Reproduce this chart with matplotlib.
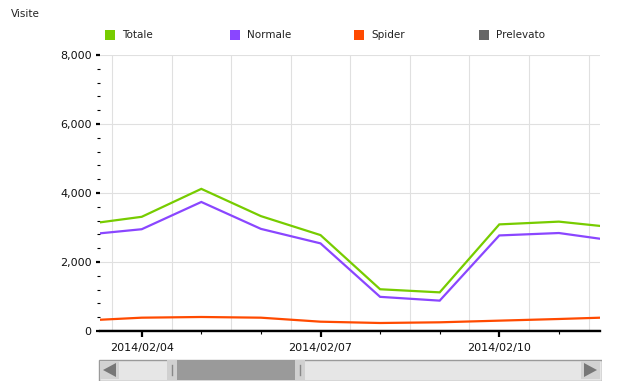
import datetime as dt
import matplotlib
matplotlib.use("Agg")
import matplotlib.pyplot as plt
import matplotlib.dates as mdates
from matplotlib.patches import Rectangle, Polygon
from matplotlib.ticker import MultipleLocator, FuncFormatter

# data
days = ["2014/02/03", "2014/02/04", "2014/02/05", "2014/02/06", "2014/02/07",
        "2014/02/08", "2014/02/09", "2014/02/10", "2014/02/11", "2014/02/12"]
totale = [3080, 3310, 4120, 3330, 2780, 1210, 1120, 3090, 3170, 2990]
normale = [2780, 2950, 3740, 2960, 2540, 990, 880, 2770, 2840, 2600]
spider = [300, 386, 406, 386, 270, 232, 252, 300, 348, 402]
prelevato = [0, 0, 0, 0, 0, 0, 0, 0, 0, 0]

series = ["Totale", "Normale", "Spider", "Prelevato"]
colors = ["#77cc00", "#8a46ff", "#ff4a00", "#666666"]

dates = [dt.datetime.strptime(d, "%Y/%m/%d") for d in days]
W, H = 618, 392

fig = plt.figure(figsize=(W / 100, H / 100), dpi=100)
fig.patch.set_facecolor("white")

# main plot area (pixel box 100..600 x 55..331)
ax = fig.add_axes([100 / W, (H - 331) / H, 500 / W, 276 / H])
ax.set_facecolor("white")

# draw lines, grey first so the others sit on top
for vals, c, z in [(prelevato, colors[3], 2), (spider, colors[2], 3),
                   (normale, colors[1], 4), (totale, colors[0], 5)]:
    ax.plot(dates, vals, color=c, lw=1.6, zorder=z, solid_joinstyle="miter")

x0 = dates[0] + dt.timedelta(days=0.30)
x1 = dates[-2] + dt.timedelta(days=0.69)
ax.set_xlim(x0, x1)
ax.set_ylim(0, 8000)

# vertical grid between days
for d in dates:
    ax.axvline(d + dt.timedelta(days=0.5), color="#e0e0e0", lw=0.8, zorder=1)
ax.yaxis.grid(True, which="major", color="#e0e0e0", lw=0.8, zorder=1)
ax.set_axisbelow(True)

for s in ["top", "right", "left"]:
    ax.spines[s].set_visible(False)
ax.spines["bottom"].set_color("black")
ax.spines["bottom"].set_linewidth(1.7)
ax.spines["bottom"].set_zorder(6)

ax.yaxis.set_major_locator(MultipleLocator(2000))
ax.yaxis.set_minor_locator(MultipleLocator(400))
ax.yaxis.set_major_formatter(FuncFormatter(lambda v, p: f"{int(v):,}"))
ax.tick_params(axis="y", which="major", length=3, width=1.6, color="black",
               labelsize=8, pad=3, labelcolor="#111111")
ax.tick_params(axis="y", which="minor", length=2, width=0.8, color="black")

ax.xaxis.set_major_locator(mdates.DayLocator(bymonthday=[4, 7, 10]))
ax.xaxis.set_minor_locator(mdates.DayLocator())
ax.xaxis.set_major_formatter(mdates.DateFormatter("%Y/%m/%d"))
ax.tick_params(axis="x", which="major", length=4.5, width=1.6, color="black",
               labelsize=8, pad=4, labelcolor="#111111")
ax.tick_params(axis="x", which="minor", length=2.5, width=0.8, color="black")

# title
fig.text(11 / W, 1 - 14 / H, "Visite", fontsize=7.5, va="center", ha="left",
         color="#222222")

# legend row
leg_x = [105, 230, 354, 479]
for lx, name, c in zip(leg_x, series, colors):
    fig.patches.append(Rectangle((lx / W, 1 - 40 / H), 10 / W, 10 / H,
                                 transform=fig.transFigure, fc=c, ec="none"))
    fig.text((lx + 17) / W, 1 - 35.5 / H, name, fontsize=7.5, va="center",
             ha="left", color="#222222")

# scrollbar
sb = fig.add_axes([98 / W, (H - 381) / H, 504 / W, 22 / H])
sb.set_xlim(0, 504)
sb.set_ylim(22, 0)
sb.axis("off")
sb.add_patch(Rectangle((0.5, 0.5), 503, 21, fc="#e6e6e6", ec="#9a9a9a", lw=1))
sb.add_patch(Rectangle((2, 2), 19, 18, fc="#d2d2d2", ec="none"))
sb.add_patch(Polygon([[5, 11], [18, 4], [18, 18]], closed=True, fc="#777777",
                     ec="none"))
sb.add_patch(Rectangle((483, 2), 19, 18, fc="#d2d2d2", ec="none"))
sb.add_patch(Polygon([[499, 11], [486, 4], [486, 18]], closed=True,
                     fc="#777777", ec="none"))
sb.add_patch(Rectangle((69, 1), 10, 20, fc="#d0d0d0", ec="none"))
sb.add_patch(Rectangle((197, 1), 10, 20, fc="#d0d0d0", ec="none"))
sb.add_patch(Rectangle((79, 1), 118, 20, fc="#9a9a9a", ec="none"))
sb.plot([74, 74], [6, 16], color="#888888", lw=1)
sb.plot([202, 202], [6, 16], color="#888888", lw=1)

fig.savefig("out.png", dpi=100, facecolor="white")
